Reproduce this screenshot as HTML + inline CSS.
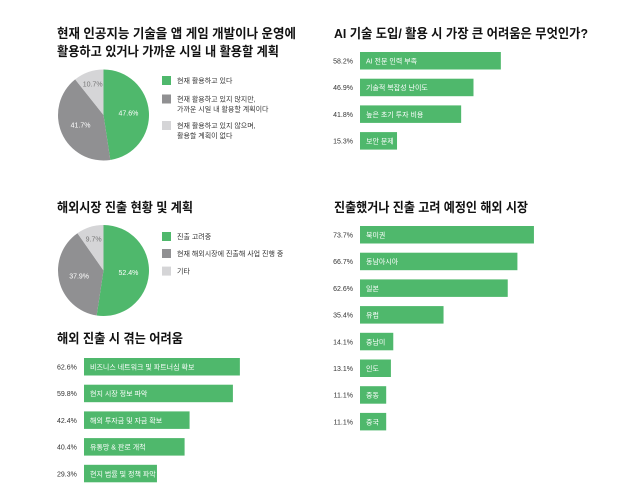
<!DOCTYPE html>
<html><head><meta charset="utf-8"><style>
body{margin:0;background:#fff;width:640px;height:498px;overflow:hidden}
svg{display:block;font-family:"Liberation Sans","Noto Sans CJK KR",sans-serif}
.t{font-size:13px;font-weight:bold;fill:#111}
.s{font-size:7px;fill:#333}
.bl{font-size:7px;fill:#fff}
</style></head><body>
<svg id="c" width="640" height="498" viewBox="0 0 640 498">
<text class="t" x="57" y="38" textLength="239" lengthAdjust="spacingAndGlyphs">현재 인공지능 기술을 앱 게임 개발이나 운영에</text>
<text class="t" x="57" y="56" textLength="222" lengthAdjust="spacingAndGlyphs">활용하고 있거나 가까운 시일 내 활용할 계획</text>
<text class="t" x="334" y="38" textLength="254" lengthAdjust="spacingAndGlyphs">AI 기술 도입/ 활용 시 가장 큰 어려움은 무엇인가?</text>
<text class="t" x="57" y="212" textLength="136" lengthAdjust="spacingAndGlyphs">해외시장 진출 현황 및 계획</text>
<text class="t" x="334" y="212" textLength="194" lengthAdjust="spacingAndGlyphs">진출했거나 진출 고려 예정인 해외 시장</text>
<text class="t" x="57" y="343" textLength="126" lengthAdjust="spacingAndGlyphs">해외 진출 시 겪는 어려움</text>
</svg>
<script>
const G='#4fb86c',D='#909092',L='#d5d5d7';
const pie1Labels=['현재 활용하고 있다','현재 활용하고 있지 않지만,|가까운 시일 내 활용할 계획이다','현재 활용하고 있지 않으며,|활용할 계획이 없다'];
const pie1Values=[47.6,41.7,10.7];
const pie2Labels=['진출 고려중','현재 해외시장에 진출해 사업 진행 중','기타'];
const pie2Values=[52.4,37.9,9.7];
const bar1Cats=['AI 전문 인력 부족','기술적 복잡성 난이도','높은 초기 투자 비용','보안 문제'];
const bar1Values=[58.2,46.9,41.8,15.3];
const bar2Cats=['북미권','동남아시아','일본','유럽','중남미','인도','중동','중국'];
const bar2Values=[73.7,66.7,62.6,35.4,14.1,13.1,11.1,11.1];
const bar3Cats=['비즈니스 네트워크 및 파트너십 확보','현지 시장 정보 파악','해외 투자금 및 자금 확보','유통망 & 판로 개척','현지 법률 및 정책 파악'];
const bar3Values=[62.6,59.8,42.4,40.4,29.3];
const svg=document.getElementById('c');const NS='http://www.w3.org/2000/svg';
function mk(t,a,txt){const e=document.createElementNS(NS,t);for(const k in a)e.setAttribute(k,a[k]);if(txt!=null)e.textContent=txt;svg.appendChild(e);return e;}
function pie(cx,cy,r,vals,labels,ly,gap,name){
 const cols=[G,D,L];let a=0;const tot=vals.reduce((x,y)=>x+y,0);
 vals.forEach((v,i)=>{
  const a0=a/tot*2*Math.PI,a1=(a+v)/tot*2*Math.PI;a+=v;
  const p=t=>[cx+r*Math.sin(t),cy-r*Math.cos(t)];
  const [x0,y0]=p(a0),[x1,y1]=p(a1);
  const s=mk('path',{d:`M${cx},${cy}L${x0},${y0}A${r},${r} 0 ${a1-a0>Math.PI?1:0} 1 ${x1},${y1}Z`,fill:cols[i]});
  
  
  const m=(a0+a1)/2,rr=i==2?r*0.72:r*0.55;
  const t=mk('text',{x:cx+rr*Math.sin(m),y:cy-rr*Math.cos(m)+2.5,'text-anchor':'middle','font-size':7,fill:i==2?'#777':'#fff'},v.toFixed(1)+'%');
  
  
  const yy=ly+i*gap[i];
  const sq=mk('rect',{x:162,y:yy,width:9,height:9,fill:cols[i]});
  
  
  labels[i].split('|').forEach((ln,j)=>{const lt=mk('text',{x:177,y:yy+7+j*10,class:'s'},ln);
   
   });
 });
}
pie(103.5,115,45.5,pie1Values,pie1Labels,76,[0,18.5,22.5],'pie-ai-usage');
pie(103.5,270.5,45.5,pie2Values,pie2Labels,232,[0,17,17.3],'pie-overseas');
function bars(x0,y0,scale,step,vals,cats,lx,anchor,name){
 vals.forEach((v,i)=>{
  const y=y0+i*step;
  const b=mk('rect',{x:x0,y:y,width:v*scale,height:17.5,fill:G});
  
  
  const t=mk('text',{x:x0+6,y:y+11.5,class:'bl'},cats[i]);
  
  
  const p=mk('text',{x:lx,y:y+11.5,class:'s','text-anchor':anchor},v.toFixed(1)+'%');
  
  
 });
}
bars(360,52,2.42,26.7,bar1Values,bar1Cats,353,'end','ai-difficulty');
bars(360,226,2.36,26.7,bar2Values,bar2Cats,353,'end','overseas-markets');
bars(84,358,2.49,26.7,bar3Values,bar3Cats,57,'start','overseas-difficulty');
</script>
</body></html>
